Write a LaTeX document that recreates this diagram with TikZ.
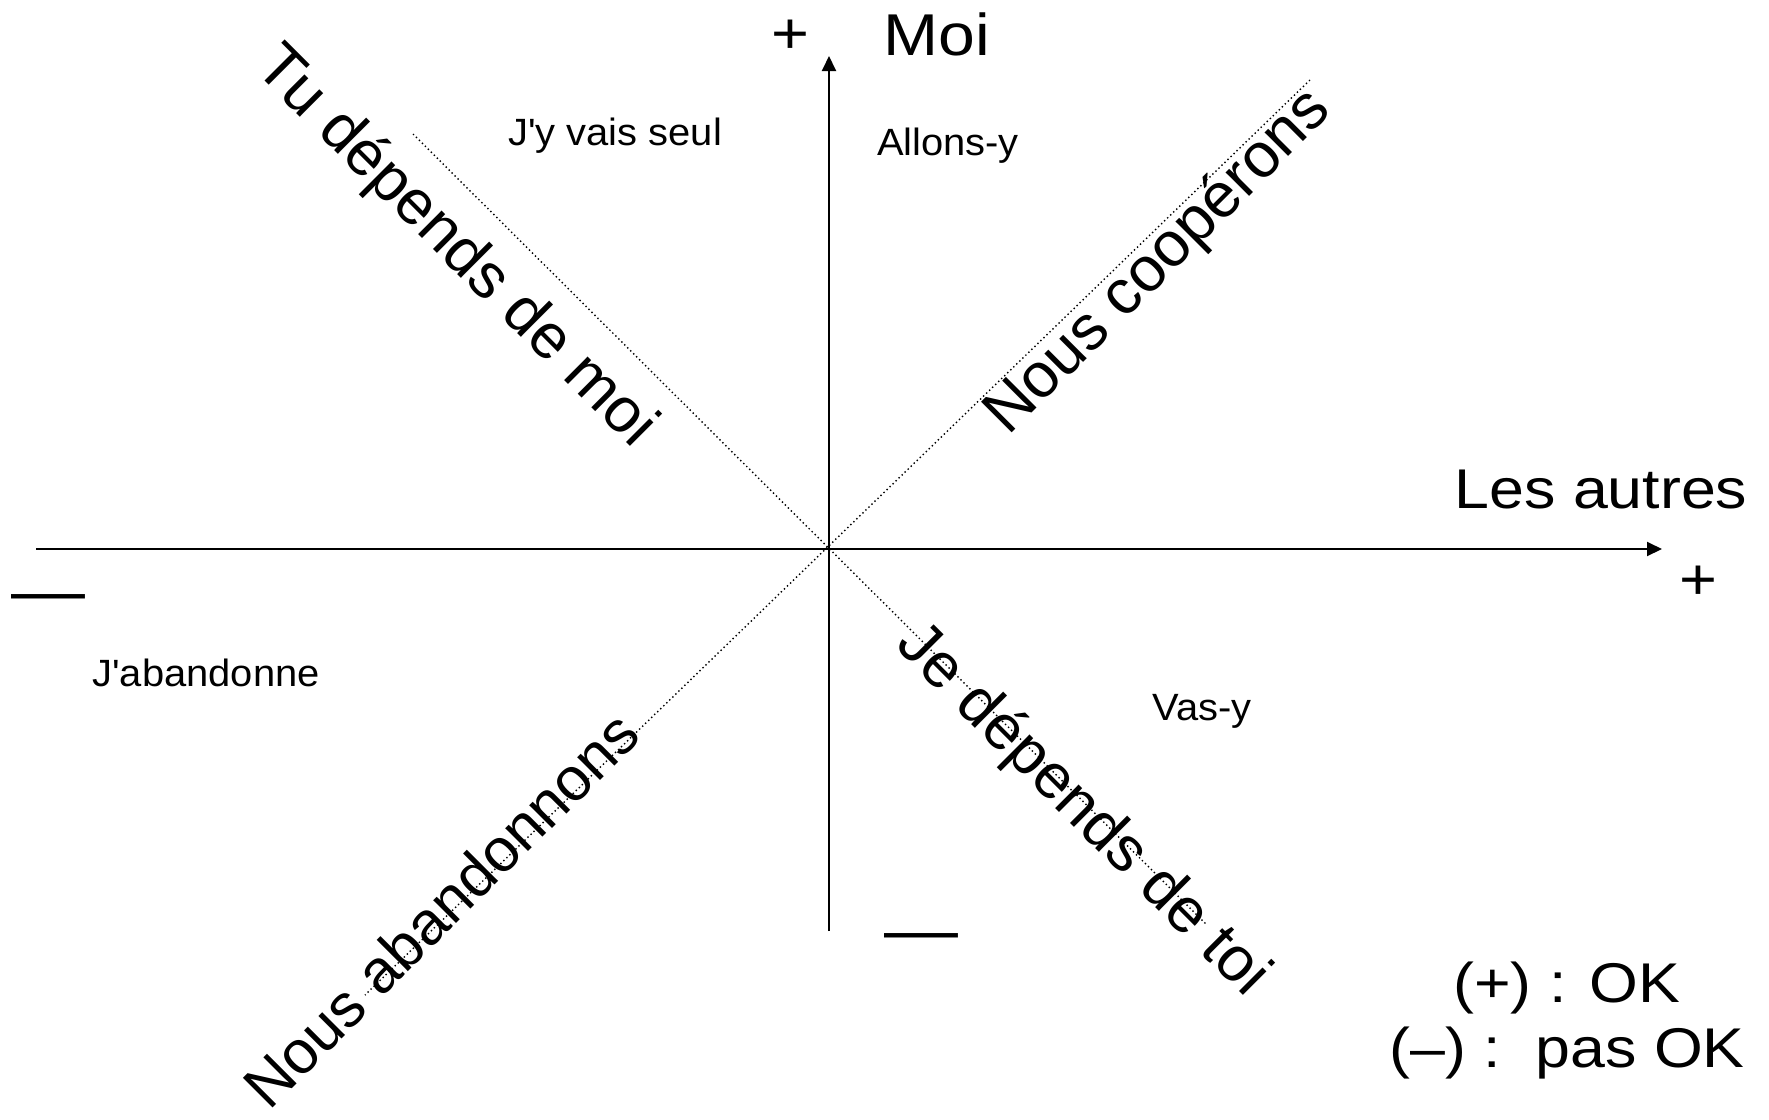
\documentclass[tikz,border=0pt]{standalone}
\usepackage{fontspec}
\setmainfont{Liberation Sans}[Ligatures=TeXOff]
\usetikzlibrary{arrows.meta}
\newcommand{\hwide}[1]{\scalebox{1.12}[1]{#1}}
\newcommand{\hsoft}[1]{\scalebox{1.05}[1]{#1}}

\begin{document}
\begin{tikzpicture}[x=0.5pt,y=-0.5pt,
  axis/.style={line width=1pt, -{Triangle[length=7.5pt,width=7pt]}},
  diag/.style={line width=0.7pt, dash pattern=on 0.7pt off 1.4pt},
  lbl/.style={inner sep=0pt, anchor=base},
  big/.style={lbl, font=\fontsize{29.5}{35}\selectfont},
  mid/.style={lbl, font=\fontsize{28}{33}\selectfont},
  small/.style={lbl, font=\fontsize{19}{23}\selectfont},
  slant/.style={inner sep=0pt, font=\fontsize{31.5}{37}\selectfont},
  sign/.style={inner sep=0pt, font=\fontsize{29}{34}\selectfont},
  bar/.style={inner sep=0pt, font=\fontsize{33}{38}\selectfont},
]
\useasboundingbox (0,0) rectangle (1769,1120);

% axis end points and the centre
\coordinate (O)  at (829,549);
\coordinate (xl) at (36,549);
\coordinate (xr) at (1662,549);
\coordinate (yb) at (829,931);
\coordinate (yt) at (829,56);

% diagonal end points
\coordinate (nw) at (413,134);
\coordinate (se) at (1207,925);
\coordinate (ne) at (1310,80);
\coordinate (sw) at (365,995);

% dotted diagonals
\draw[diag] (nw) -- (se);
\draw[diag] (ne) -- (sw);

% axes
\draw[axis] (xl) -- (xr);
\draw[axis] (yb) -- (yt);

% axis titles and signs
\node[big] (moi) at (937,55) {\hwide{Moi}};
\node[mid] (autres) at (1601,508) {\hwide{Les autres}};
\node[sign] (plustop) at (790,37) {\hwide{+}};
\node[sign] (plusright) at (1698,583) {\hwide{+}};
\node[bar] (minusleft) at (48,604) {\hwide{—}};
\node[bar] (minusbottom) at (921,943) {\hwide{—}};

% quadrant labels
\node[small] (seul) at (615,145) {\hsoft{J'y vais seul}};
\node[small] (allons) at (948,155) {\hsoft{Allons-y}};
\node[small] (abandonne) at (206,686) {\hsoft{J'abandonne}};
\node[small] (vasy) at (1202,720) {\hsoft{Vas-y}};

% diagonal labels
\node[slant, rotate=-45] (tudep) at (455,248) {Tu dépends de moi};
\node[slant, rotate=45] (coop) at (1159,263) {Nous coopérons};
\node[slant, rotate=45, font=\fontsize{30.5}{36}\selectfont] (aband) at (441,909) {Nous abandonnons};
\node[slant, rotate=-45] (jedep) at (1082,811) {Je dépends de toi};

% legend
\node[mid] (legok) at (1567,1002) {\hwide{(+) : OK}};
\node[mid] (legko) at (1567,1067) {\hwide{(–) :~~pas OK}};
\end{tikzpicture}
\end{document}
